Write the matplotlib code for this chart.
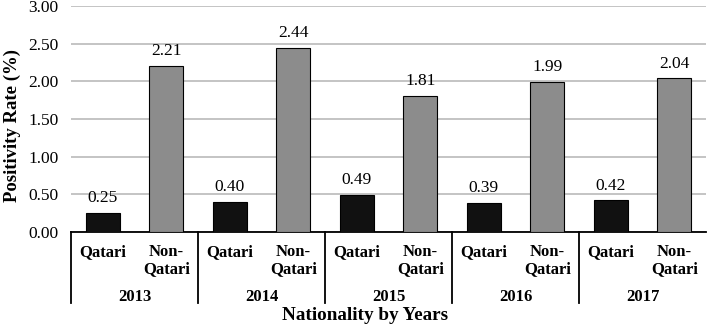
import matplotlib
matplotlib.use("Agg")
import matplotlib.pyplot as plt
import matplotlib.transforms as mtransforms
import numpy as np

years = ["2013", "2014", "2015", "2016", "2017"]
categories = ["Qatari", "Non-\nQatari"]
qatari = [0.25, 0.40, 0.49, 0.39, 0.42]
non_qatari = [2.21, 2.44, 1.81, 1.99, 2.04]
yticks = [0.0, 0.5, 1.0, 1.5, 2.0, 2.5, 3.0]

plt.rcParams['font.family'] = ['Liberation Serif', 'DejaVu Serif']

fig = plt.figure(figsize=(7.09, 3.24), dpi=100)
ax = fig.add_axes([71/709, 1 - 232/324, 635/709, 226/324])

n = len(years)
xq = np.arange(n) * 2 + 0.5
xn = np.arange(n) * 2 + 1.5
w = 0.54
ax.bar(xq, qatari, w, color="#111111", edgecolor="black", linewidth=0.8, zorder=3)
ax.bar(xn, non_qatari, w, color="#8c8c8c", edgecolor="black", linewidth=0.8, zorder=3)

for x, v in zip(xq, qatari):
    ax.text(x, v + 0.09, f"{v:.2f}", ha="center", va="bottom", fontsize=12.5)
for x, v in zip(xn, non_qatari):
    ax.text(x, v + 0.09, f"{v:.2f}", ha="center", va="bottom", fontsize=12.5)

ax.set_xlim(0, 2 * n)
ax.set_ylim(0, 3.0)
ax.set_yticks(yticks)
ax.set_yticklabels([f"{t:.2f}" for t in yticks], fontsize=12.5)
ax.yaxis.grid(True, color="#bfbfbf", linewidth=1.3, zorder=0)
ax.set_axisbelow(True)
ax.tick_params(axis="y", length=0, pad=9)
ax.tick_params(axis="x", length=0, labelbottom=False)
for s in ["top", "right", "left"]:
    ax.spines[s].set_visible(False)
ax.spines["bottom"].set_linewidth(1.3)

trans = mtransforms.blended_transform_factory(ax.transData, ax.transAxes)
ah = 226.0
for i in range(n):
    for x, lab in zip([xq[i], xn[i]], categories):
        ax.text(x, -12/ah, lab, transform=trans, ha="center", va="top",
                fontsize=12, fontweight="bold", linespacing=1.05)
    ax.text(2 * i + 1, -57/ah, years[i], transform=trans, ha="center", va="top",
            fontsize=12, fontweight="bold")
for i in range(n):
    ax.plot([2 * i, 2 * i], [0, -71/ah], transform=trans, color="black",
            linewidth=1.3, clip_on=False)

fig.text(12/709, 1 - 126/324, "Positivity Rate (%)", rotation=90, ha="center",
         va="center", fontsize=13.5, fontweight="bold")
fig.text(365/709, 1 - 320/324, "Nationality by Years", ha="center", va="baseline",
         fontsize=13.8, fontweight="bold")

fig.savefig("out.png", dpi=100)
